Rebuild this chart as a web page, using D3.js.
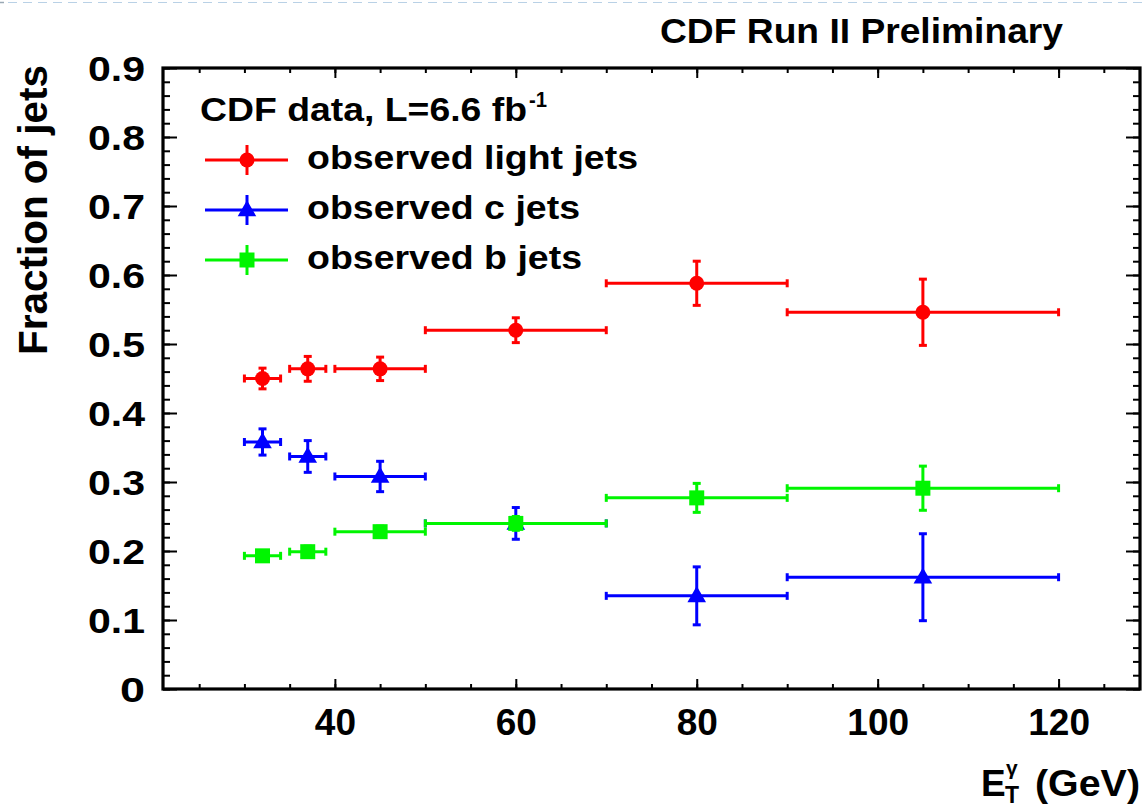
<!DOCTYPE html>
<html>
<head>
<meta charset="utf-8">
<script src="https://cdn.jsdelivr.net/npm/d3@7"></script>
<style>
  html, body { margin: 0; padding: 0; background: #ffffff; }
  svg { display: block; }
  text { font-family: "Liberation Sans", Arial, Helvetica, sans-serif; font-weight: bold; fill: #000; }
</style>
</head>
<body>
<svg id="chart" width="1144" height="808"></svg>
<script>
// Photon E_T bins (GeV): centre, lower edge, upper edge
const binCenters = [32, 37, 45, 60, 80, 105];
const binLow     = [30, 35, 40, 50, 70, 90];
const binHigh    = [34, 39, 50, 70, 90, 120];

// Fractions of jets per flavour, with symmetric uncertainties
const lightFrac = [0.450, 0.464, 0.464, 0.520, 0.588, 0.546];
const lightErr  = [0.015, 0.018, 0.017, 0.018, 0.032, 0.048];
const cFrac     = [0.358, 0.337, 0.308, 0.240, 0.135, 0.162];
const cErr      = [0.019, 0.023, 0.022, 0.023, 0.042, 0.063];
const bFrac     = [0.193, 0.199, 0.228, 0.240, 0.277, 0.291];
const bErr      = [0.005, 0.008, 0.008, 0.010, 0.021, 0.032];

const xTicks = [40, 60, 80, 100, 120];
const yTicks = [0, 0.1, 0.2, 0.3, 0.4, 0.5, 0.6, 0.7, 0.8, 0.9];
const yTickLabels = ["0", "0.1", "0.2", "0.3", "0.4", "0.5", "0.6", "0.7", "0.8", "0.9"];

const seriesNames = ["observed light jets", "observed c jets", "observed b jets"];
const seriesColors = ["#ff0000", "#0000ff", "#00f500"];
const seriesMarkers = ["circle", "triangle", "square"];

const svg = d3.select("#chart");
const W = 1144, H = 808;
const frame = { left: 163, right: 1140, top: 68, bottom: 689 };

const x = d3.scaleLinear().domain([21, 129]).range([frame.left, frame.right]);
const y = d3.scaleLinear().domain([0, 0.9]).range([frame.bottom, frame.top]);

// dashed rule along the page top
svg.append("line")
  .attr("x1", 8).attr("x2", W).attr("y1", 2.5).attr("y2", 2.5)
  .attr("stroke", "#b9d1e6").attr("stroke-width", 1.2)
  .attr("stroke-dasharray", "9,6");
svg.append("line")
  .attr("x1", 0).attr("x2", 4).attr("y1", 2.5).attr("y2", 2.5)
  .attr("stroke", "#9aa8b4").attr("stroke-width", 1.5);

// ---- axes: inward ticks on all four sides ----
const xMinor = d3.range(25, 129, 5);
const yMinor = d3.range(0, 0.9001, 0.02);

function styleAxis(g) {
  g.select(".domain").remove();
  g.selectAll(".tick line").attr("stroke", "#000").attr("stroke-width", 2);
}

// bottom
svg.append("g").attr("transform", `translate(0,${frame.bottom})`)
  .call(d3.axisBottom(x).tickValues(xMinor).tickSize(-5).tickFormat(""))
  .call(styleAxis);
svg.append("g").attr("transform", `translate(0,${frame.bottom})`)
  .call(d3.axisBottom(x).tickValues(xTicks).tickSizeInner(-10).tickSizeOuter(0).tickPadding(20).tickFormat(d3.format("d")))
  .call(styleAxis)
  .call(g => g.selectAll("text").attr("font-size", 37).attr("dy", "0.71em").attr("y", 20));
// top
svg.append("g").attr("transform", `translate(0,${frame.top})`)
  .call(d3.axisTop(x).tickValues(xMinor).tickSize(-5).tickFormat(""))
  .call(styleAxis);
svg.append("g").attr("transform", `translate(0,${frame.top})`)
  .call(d3.axisTop(x).tickValues(xTicks).tickSize(-10).tickFormat(""))
  .call(styleAxis);
// left
svg.append("g").attr("transform", `translate(${frame.left},0)`)
  .call(d3.axisLeft(y).tickValues(yMinor).tickSize(-7).tickFormat(""))
  .call(styleAxis);
svg.append("g").attr("transform", `translate(${frame.left},0)`)
  .call(d3.axisLeft(y).tickValues(yTicks).tickSizeInner(-14).tickSizeOuter(0).tickPadding(18)
        .tickFormat((d, i) => yTickLabels[i]))
  .call(styleAxis)
  .call(g => g.selectAll("text")
    .attr("font-size", 35).attr("x", -18).attr("dy", "0.36em")
    .attr("lengthAdjust", "spacingAndGlyphs")
    .attr("textLength", d => d === 0 ? 25 : 57));
// right
svg.append("g").attr("transform", `translate(${frame.right},0)`)
  .call(d3.axisRight(y).tickValues(yMinor).tickSize(-7).tickFormat(""))
  .call(styleAxis);
svg.append("g").attr("transform", `translate(${frame.right},0)`)
  .call(d3.axisRight(y).tickValues(yTicks).tickSize(-14).tickFormat(""))
  .call(styleAxis);

// frame
svg.append("rect")
  .attr("x", frame.left).attr("y", frame.top)
  .attr("width", frame.right - frame.left).attr("height", frame.bottom - frame.top)
  .attr("fill", "none").attr("stroke", "#000").attr("stroke-width", 3.2);

// ---- data: error bars with end caps and markers ----
const symbolFor = {
  circle:   d3.symbol().type(d3.symbolCircle).size(Math.PI * 7.5 * 7.5),
  triangle: d3.symbol().type(d3.symbolTriangle).size(150),
  square:   d3.symbol().type(d3.symbolSquare).size(15 * 15)
};

const allSeries = [
  { vals: lightFrac, errs: lightErr },
  { vals: cFrac, errs: cErr },
  { vals: bFrac, errs: bErr }
];

const cap = 4;
allSeries.forEach((s, si) => {
  const col = seriesColors[si];
  const g = svg.append("g").attr("class", "series-" + si);
  const pts = binCenters.map((c, i) => ({
    c, lo: binLow[i], hi: binHigh[i], v: s.vals[i], e: s.errs[i]
  }));
  const eg = g.append("g").attr("stroke", col).attr("stroke-width", 3).attr("fill", "none");
  pts.forEach(p => {
    const cx = x(p.c), cy = y(p.v);
    // horizontal bar (bin width)
    eg.append("line").attr("x1", x(p.lo)).attr("x2", x(p.hi)).attr("y1", cy).attr("y2", cy);
    eg.append("line").attr("x1", x(p.lo)).attr("x2", x(p.lo)).attr("y1", cy - cap).attr("y2", cy + cap);
    eg.append("line").attr("x1", x(p.hi)).attr("x2", x(p.hi)).attr("y1", cy - cap).attr("y2", cy + cap);
    // vertical bar (uncertainty)
    const yt = y(p.v + p.e), yb = y(p.v - p.e);
    eg.append("line").attr("x1", cx).attr("x2", cx).attr("y1", yt).attr("y2", yb);
    eg.append("line").attr("x1", cx - cap).attr("x2", cx + cap).attr("y1", yt).attr("y2", yt);
    eg.append("line").attr("x1", cx - cap).attr("x2", cx + cap).attr("y1", yb).attr("y2", yb);
  });
  g.selectAll("path.marker").data(pts).join("path")
    .attr("class", "marker")
    .attr("d", symbolFor[seriesMarkers[si]])
    .attr("transform", p => `translate(${x(p.c)},${y(p.v) + (seriesMarkers[si] === "triangle" ? 1 : 0)})`)
    .attr("fill", col);
});

// ---- legend ----
const leg = svg.append("g");
leg.append("text").attr("x", 200).attr("y", 121).attr("font-size", 33)
  .attr("textLength", 327).attr("lengthAdjust", "spacingAndGlyphs")
  .text("CDF data, L=6.6 fb");
leg.append("text").attr("x", 529).attr("y", 107).attr("font-size", 22)
  .attr("textLength", 18).attr("lengthAdjust", "spacingAndGlyphs").text("-1");

const legWidths = [331, 273, 275];
seriesNames.forEach((name, i) => {
  const cy = 160 + i * 50;
  const col = seriesColors[i];
  leg.append("line").attr("x1", 205).attr("x2", 288).attr("y1", cy).attr("y2", cy)
    .attr("stroke", col).attr("stroke-width", 3);
  leg.append("line").attr("x1", 247).attr("x2", 247).attr("y1", cy - 15).attr("y2", cy + 15)
    .attr("stroke", col).attr("stroke-width", 3);
  leg.append("path").attr("d", symbolFor[seriesMarkers[i]])
    .attr("transform", `translate(247,${cy + (seriesMarkers[i] === "triangle" ? 1 : 0)})`)
    .attr("fill", col);
  leg.append("text").attr("x", 307).attr("y", cy + 9).attr("font-size", 33)
    .attr("textLength", legWidths[i]).attr("lengthAdjust", "spacingAndGlyphs").text(name);
});

// ---- titles ----
svg.append("text").attr("x", 660).attr("y", 43).attr("font-size", 35)
  .attr("textLength", 403).attr("lengthAdjust", "spacingAndGlyphs")
  .text("CDF Run II Preliminary");

svg.append("text")
  .attr("transform", "translate(47,65) rotate(-90)")
  .attr("text-anchor", "end").attr("font-size", 40)
  .attr("textLength", 290).attr("lengthAdjust", "spacingAndGlyphs")
  .text("Fraction of jets");

const xt = svg.append("g");
xt.append("text").attr("x", 981).attr("y", 796).attr("font-size", 37).text("E");
xt.append("text").attr("x", 1005).attr("y", 803).attr("font-size", 23).text("T");
xt.append("text").attr("x", 1006).attr("y", 775).attr("font-size", 21).text("\u03b3");
xt.append("text").attr("x", 1035).attr("y", 796).attr("font-size", 37)
  .attr("textLength", 105).attr("lengthAdjust", "spacingAndGlyphs").text("(GeV)");
</script>
</body>
</html>
